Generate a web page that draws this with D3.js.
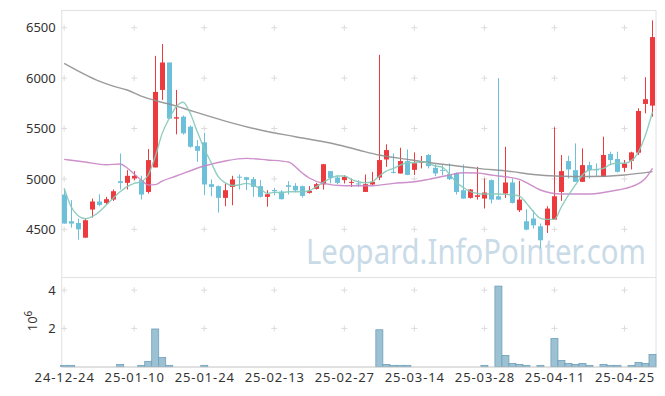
<!DOCTYPE html>
<html>
<head>
<meta charset="utf-8">
<script src="https://cdn.jsdelivr.net/npm/d3@7"></script>
<style>
body { margin: 0; background: #fff; }
text { font-family: "Noto Sans", sans-serif; fill: #333; }
</style>
</head>
<body>
<svg width="665" height="396"></svg>
<script>
// x tick labels (every 10th trading day)
var tickIdx = [0, 10, 20, 30, 40, 50, 60, 70, 80];
var tickLabels = ["24-12-24", "25-01-10", "25-01-24", "25-02-13", "25-02-27",
                  "25-03-14", "25-03-28", "25-04-11", "25-04-25"];

// daily candles, one entry per trading day
var open  = [4845,4580,4563,4417,4696,4776,4762,4795,4978,4961, 5005,4988,4871,5114,5883,6155,5598,5618,5518,5326,
             5363,4948,4928,4812,4921,5022,5017,4998,4928,4822, 4890,4875,4937,4931,4928,4862,4901,4946,5077,5014,
             4988,4961,4955,4871,4945,5014,5193,5070,5054,5177, 5090,5160,5237,5110,5090,5047,5060,4888,4812,4822,
             4805,4988,4828,4855,4965,4689,4580,4607,4530,4540, 4596,4871,5177,5087,4971,5137,5095,5020,5247,5197,
             5110,5180,5260,5744,5727];
var high  = [4900,4790,4607,4607,4805,4848,4822,4895,5253,5087, 5077,5031,5296,6221,6338,6155,5883,5630,5530,5386,
             5458,4995,4935,4955,5031,5044,5020,5020,4988,4888, 4911,4888,4978,4958,4935,4928,4961,5150,5077,5037,
             5037,5004,4988,5044,5070,6231,5343,5253,5309,5293, 5263,5227,5247,5144,5137,5154,5064,5144,4900,5120,
             5004,4995,6000,5319,5004,4981,4699,4689,4557,4729, 5512,5237,5230,5353,5303,5170,5154,5419,5270,5270,
             5187,5270,5701,6009,6573];
var low   = [4557,4517,4398,4417,4616,4729,4749,4782,4895,4895, 4988,4796,4855,5114,5784,5598,5442,5440,5310,5170,
             4838,4828,4666,4729,4739,4895,4888,4822,4815,4725, 4838,4795,4845,4868,4815,4855,4895,4895,4955,4948,
             4955,4921,4921,4871,4938,4988,5120,5054,5054,5037, 5040,5104,5104,5027,5037,4988,4845,4805,4805,4795,
             4706,4756,4795,4812,4756,4672,4490,4507,4310,4464, 4596,4782,5004,4971,4971,5004,5020,5020,5137,5064,
             5070,5094,5237,5651,5618];
var close = [4557,4557,4500,4590,4776,4742,4799,4878,4961,5031, 5031,4845,5187,5863,6155,5598,5612,5452,5319,5279,
             4945,4921,4812,4888,4995,5015,4991,4921,4822,4848, 4878,4799,4921,4886,4832,4882,4948,5146,5010,4961,
             5020,4971,4945,4948,4971,5187,5286,5060,5177,5040, 5157,5177,5127,5054,5085,4998,4871,4805,4895,4838,
             4865,4795,4795,4965,4762,4795,4497,4540,4391,4706, 4828,5077,5094,4971,5137,5087,5090,5237,5187,5070,
             5154,5263,5674,5791,6407];

// volume, millions of shares
var volume = [0.07,0.07,0,0,0,0,0,0,0.12,0, 0,0.07,0.28,1.97,0.48,0.07,0,0,0,0,
              0.07,0,0,0,0,0,0,0,0,0, 0,0,0,0,0,0,0,0,0,0,
              0,0,0,0,0,1.93,0.12,0.07,0.07,0.07, 0,0,0,0,0,0,0,0,0,0,
              0.07,0,4.21,0.59,0.17,0.12,0.07,0,0.07,0, 1.47,0.33,0.17,0.12,0.17,0.07,0,0.12,0.07,0.07,
              0,0.07,0.22,0.17,0.64];

// short moving average, read per day
var maShort = [4907,4724,4635,4605,4625,4675,4741,4808,4873,4923, 4956,4972,5039,5220,5452,5601,5716,5760,5651,5470,
               5300,5160,5022,4960,4935,4940,4956,4940,4900,4857, 4867,4863,4873,4873,4873,4883,4923,4967,5006,5029,
               5029,4996,4972,4962,4972,5029,5078,5105,5138,5161, 5161,5171,5155,5128,5115,5050,4965,4915,4873,4855,
               4850,4850,4850,4847,4840,4830,4760,4675,4609,4599, 4599,4724,4840,4940,5039,5088,5095,5105,5145,5155,
               5155,5181,5270,5436,5667];

// middle moving average, sampled
var maMidIdx = [0,3,6,8,9,10,11,12,13,14,16,20,23,26,29,32,34,35,37,40,44,47,50,52,55,57,59,61,62,65,66,68,71,75,79,81,83,84];
var maMidVal = [5194,5168,5141,5148,5108,5049,4989,4940,4943,4979,5029,5128,5178,5204,5188,5168,5059,5009,4956,4933,
                4933,4956,4972,4996,5039,5062,5059,5039,5029,4996,4963,4890,4851,4851,4890,4923,5006,5105];

// long moving average, sampled
var maLongIdx = [0,5,7,9,11,13,16,18,23,28,33,38,42,45,49,51,55,59,64,67,70,75,80,84];
var maLongVal = [6147,5971,5921,5882,5822,5778,5723,5679,5574,5485,5419,5356,5287,5237,5194,5173,5138,5105,5072,5044,
                 5029,5024,5039,5072];

var priceTicks = [4500, 5000, 5500, 6000, 6500];
var volTicks = [2, 4];

var svg = d3.select("svg");
var plotLeft = 61.7, plotRight = 656, plotTop = 10.5, plotMid = 277.5, plotBottom = 366.7;

var x = d3.scaleLinear().domain([-0.35, 84.5]).range([plotLeft, plotRight]);
var yP = d3.scaleLinear().domain([4022, 6671]).range([plotMid, plotTop]);
var yV = d3.scaleLinear().domain([0, 4.66]).range([plotBottom, plotMid]);

var upColor = "#ec3a3e", downColor = "#6cc0da";

// watermark
svg.append("text")
  .attr("x", 306).attr("y", 264)
  .attr("textLength", 340).attr("lengthAdjust", "spacingAndGlyphs")
  .style("font-size", "35px").style("fill", "#c9dbe7")
  .text("Leopard.InfoPointer.com");

// frame
var frame = svg.append("g").attr("stroke", "#e2e2e2").attr("fill", "none");
frame.append("rect").attr("x", plotLeft).attr("y", plotTop)
  .attr("width", plotRight - plotLeft).attr("height", plotBottom - plotTop);
frame.append("line").attr("x1", plotLeft).attr("x2", plotRight).attr("y1", plotMid).attr("y2", plotMid);

// grid crosses
var crosses = [];
tickIdx.forEach(function(t) {
  priceTicks.forEach(function(p) { crosses.push([x(t), yP(p)]); });
  volTicks.forEach(function(v) { crosses.push([x(t), yV(v)]); });
});
svg.append("g").selectAll("path").data(crosses).enter().append("path")
  .attr("d", function(d) { return "M" + (d[0] - 3) + "," + d[1] + "h6M" + d[0] + "," + (d[1] - 3) + "v6"; })
  .attr("stroke", "#dcdcdc").attr("stroke-width", 1);

// candles
var idx = d3.range(open.length);
var candles = svg.append("g").selectAll("g").data(idx).enter().append("g");
candles.append("line")
  .attr("x1", function(i) { return Math.round(x(i)) + 0.5; })
  .attr("x2", function(i) { return Math.round(x(i)) + 0.5; })
  .attr("y1", function(i) { return yP(high[i]); })
  .attr("y2", function(i) { return yP(low[i]); })
  .attr("stroke", function(i) { return close[i] >= open[i] ? upColor : downColor; })
  .attr("stroke-width", 1);
candles.append("rect")
  .attr("x", function(i) { return Math.round(x(i)) - 2; })
  .attr("width", 5)
  .attr("y", function(i) { return yP(Math.max(open[i], close[i])); })
  .attr("height", function(i) { return Math.max(1, Math.abs(yP(open[i]) - yP(close[i]))); })
  .attr("fill", function(i) { return close[i] >= open[i] ? upColor : downColor; });

// moving averages
var line = d3.line().curve(d3.curveMonotoneX);
svg.append("path")
  .attr("d", line(maLongIdx.map(function(d, k) { return [x(d), yP(maLongVal[k])]; })))
  .attr("fill", "none").attr("stroke", "#8f8f8f").attr("stroke-width", 1.4).attr("opacity", 0.9);
svg.append("path")
  .attr("d", line(maMidIdx.map(function(d, k) { return [x(d), yP(maMidVal[k])]; })))
  .attr("fill", "none").attr("stroke", "#c884c4").attr("stroke-width", 1.4).attr("opacity", 0.9);
svg.append("path")
  .attr("d", line(idx.map(function(i) { return [x(i), yP(maShort[i])]; })))
  .attr("fill", "none").attr("stroke", "#86c9b9").attr("stroke-width", 1.4).attr("opacity", 0.9);

// volume bars
var step = x(1) - x(0);
svg.append("g").selectAll("rect").data(idx.filter(function(i) { return volume[i] > 0; })).enter().append("rect")
  .attr("x", function(i) { return x(i) - step / 2; })
  .attr("width", step)
  .attr("y", function(i) { return yV(volume[i]); })
  .attr("height", function(i) { return yV(0) - yV(volume[i]); })
  .attr("fill", "#9cc1d3").attr("stroke", "#6e9fba").attr("stroke-width", 0.8);

// axes
var yAxis = svg.append("g").attr("transform", "translate(" + plotLeft + ",0)")
  .call(d3.axisLeft(yP).tickValues(priceTicks).tickSize(0).tickPadding(6).tickFormat(d3.format("d")));
yAxis.select(".domain").remove();
yAxis.selectAll("text").style("font-size", "13px");

var vAxis = svg.append("g").attr("transform", "translate(" + plotLeft + ",0)")
  .call(d3.axisLeft(yV).tickValues(volTicks).tickSize(0).tickPadding(6).tickFormat(d3.format("d")));
vAxis.select(".domain").remove();
vAxis.selectAll("text").style("font-size", "13px");

var xAxis = svg.append("g").attr("transform", "translate(0," + plotBottom + ")")
  .call(d3.axisBottom(x).tickValues(tickIdx).tickSize(0).tickPadding(6)
    .tickFormat(function(d, k) { return tickLabels[k]; }));
xAxis.select(".domain").attr("stroke", "#d6d6d6");
xAxis.selectAll("text").style("font-size", "13px").style("letter-spacing", "0.9px");

// volume unit
var unit = svg.append("text")
  .attr("transform", "translate(37,321) rotate(-90)")
  .attr("text-anchor", "middle")
  .style("font-size", "13px");
unit.append("tspan").text("10");
unit.append("tspan").attr("dy", -5).style("font-size", "10px").text("6");
</script>
</body>
</html>
